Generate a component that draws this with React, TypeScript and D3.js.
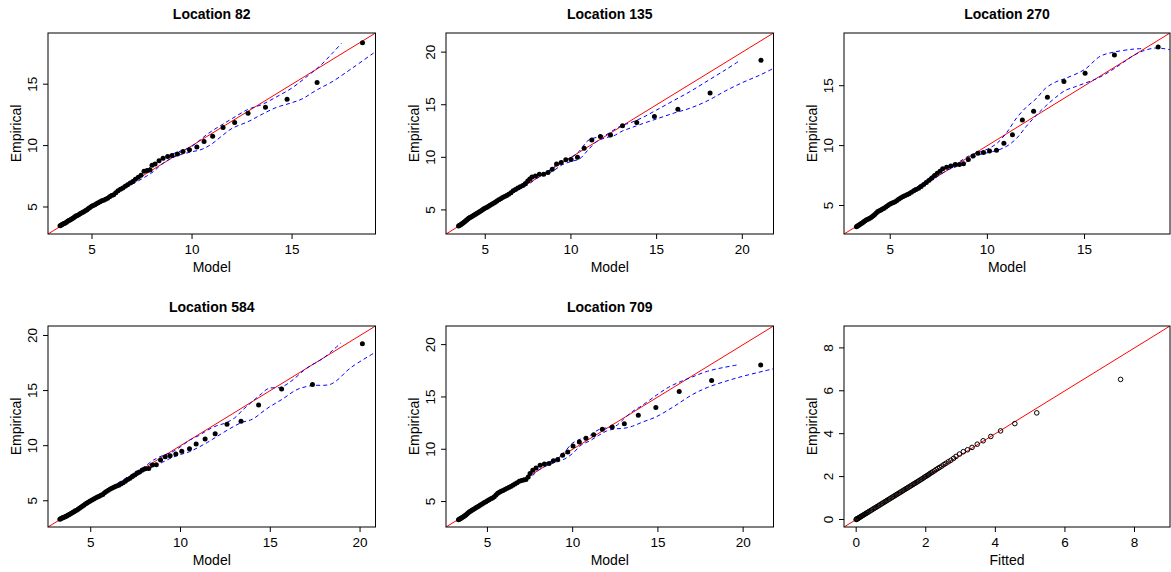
import React from "react";
import * as d3 from "d3";

// ---------- text ----------
const titles = ["Location 82", "Location 135", "Location 270", "Location 584", "Location 709", ""];
const xTitles = ["Model", "Model", "Model", "Model", "Model", "Fitted"];
const yTitle = "Empirical";

// ---------- axis limits & ticks ----------
const limits = [[2.8, 19.17], [2.71, 21.82], [2.62, 19.4], [2.62, 20.86], [2.57, 21.78], [-0.35, 9.02]];
const ticks = [[5, 10, 15], [5, 10, 15, 20], [5, 10, 15], [5, 10, 15, 20], [5, 10, 15, 20], [0, 2, 4, 6, 8]];

// ---------- Location 82 ----------
const model82 = [3.40,3.45,3.50,3.55,3.60,3.66,3.72,3.78,3.84,3.90,3.96,4.02,4.08,4.14,4.20,4.26,4.33,4.40,4.47,4.54,4.61,4.68,4.75,4.82,4.90,4.98,5.06,5.14,5.22,5.31,5.40,5.49,5.58,5.68,5.78,5.88,5.98,6.08,6.19,6.30,6.42,6.54,6.66,6.78,6.91,7.04,7.17,7.31,7.45,7.60,7.75,7.90,8.00,8.15,8.35,8.55,8.78,9.00,9.27,9.55,9.87,10.24,10.60,11.03,11.55,12.13,12.80,13.67,14.75,16.25,18.52];
const emp82 = [3.48,3.52,3.57,3.62,3.66,3.70,3.76,3.84,3.90,3.95,4.00,4.06,4.13,4.20,4.26,4.31,4.37,4.44,4.52,4.58,4.64,4.71,4.78,4.87,4.96,5.05,5.12,5.18,5.26,5.35,5.43,5.50,5.55,5.62,5.72,5.84,5.93,6.00,6.15,6.32,6.45,6.55,6.68,6.82,6.95,7.08,7.25,7.42,7.58,7.92,7.98,8.02,8.40,8.50,8.77,8.96,9.12,9.20,9.31,9.52,9.66,9.88,10.33,10.77,11.47,11.88,12.64,13.13,13.78,15.13,18.38];
const upper82 = [[5.5,5.6],[6.0,6.1],[6.5,6.6],[7.0,7.2],[7.5,7.75],[8.0,8.35],[8.5,8.9],[9.0,9.3],[9.5,9.6],[10.0,9.95],[10.5,10.6],[11.0,11.2],[11.5,11.7],[12.0,12.2],[12.8,12.95],[13.5,13.35],[14.2,13.95],[15.0,14.7],[15.8,15.7],[16.4,16.5],[17.0,17.5],[17.47,18.33]];
const lower82 = [[5.5,5.4],[6.0,5.9],[6.5,6.4],[7.0,6.85],[7.5,7.3],[8.0,7.8],[8.5,8.5],[9.0,9.0],[9.5,9.3],[10.0,9.5],[10.5,9.7],[11.0,10.15],[11.5,10.8],[12.0,11.4],[12.8,11.95],[13.5,12.55],[14.2,13.1],[14.9,13.45],[15.5,13.8],[16.2,14.5],[17.0,15.2],[18.0,16.3],[19.17,17.65]];

// ---------- Location 135 ----------
const model135 = [3.44,3.50,3.56,3.62,3.68,3.74,3.80,3.86,3.92,3.98,4.04,4.10,4.17,4.24,4.31,4.38,4.45,4.52,4.60,4.68,4.76,4.84,4.92,5.01,5.10,5.19,5.28,5.38,5.48,5.58,5.68,5.79,5.90,6.01,6.13,6.25,6.37,6.50,6.63,6.76,6.90,7.04,7.19,7.34,7.48,7.60,7.73,7.93,8.16,8.41,8.66,8.91,9.16,9.43,9.70,10.01,10.38,10.77,11.22,11.72,12.31,13.01,13.84,14.87,16.24,18.12,21.09];
const emp135 = [3.48,3.54,3.60,3.66,3.73,3.80,3.88,3.96,4.05,4.13,4.20,4.27,4.33,4.40,4.47,4.54,4.61,4.68,4.76,4.84,4.93,5.02,5.10,5.18,5.26,5.35,5.44,5.54,5.64,5.74,5.85,5.96,6.07,6.18,6.28,6.38,6.48,6.62,6.82,6.95,7.08,7.20,7.33,7.50,7.75,7.95,8.13,8.23,8.39,8.39,8.55,8.87,9.37,9.50,9.78,9.79,10.00,10.86,11.65,11.97,12.12,13.01,13.30,13.87,14.56,16.11,19.22];
const upper135 = [[5.5,5.75],[6.5,6.75],[7.5,7.75],[8.0,8.3],[8.5,8.5],[9.0,9.1],[9.5,9.65],[10.0,9.95],[10.5,10.6],[11.0,11.6],[11.5,11.9],[12.0,12.1],[12.5,12.6],[13.0,13.05],[13.5,13.3],[14.2,13.8],[15.0,14.5],[16.0,15.4],[17.0,16.3],[18.0,17.3],[19.0,18.3],[19.81,19.15]];
const lower135 = [[5.5,5.55],[6.5,6.55],[7.5,7.4],[8.0,8.0],[8.5,8.35],[9.0,8.75],[9.5,9.3],[10.0,9.6],[10.5,9.85],[11.0,10.7],[11.5,11.5],[12.0,11.85],[12.5,12.05],[13.0,12.5],[13.5,12.8],[14.0,13.1],[15.0,13.65],[16.0,14.2],[17.0,14.7],[18.0,15.4],[19.0,16.3],[20.0,17.1],[21.0,17.8],[21.82,18.46]];

// ---------- Location 270 ----------
const model270 = [3.26,3.31,3.36,3.41,3.47,3.53,3.59,3.65,3.71,3.78,3.85,3.92,3.99,4.06,4.13,4.20,4.28,4.36,4.44,4.52,4.60,4.68,4.77,4.86,4.95,5.04,5.13,5.23,5.33,5.43,5.53,5.64,5.75,5.86,5.97,6.09,6.21,6.33,6.46,6.59,6.72,6.86,7.00,7.14,7.28,7.42,7.56,7.70,7.90,8.12,8.34,8.56,8.77,9.02,9.26,9.51,9.80,10.11,10.47,10.85,11.29,11.80,12.38,13.09,13.94,15.03,16.54,18.79];
const emp270 = [3.23,3.28,3.33,3.39,3.45,3.51,3.58,3.66,3.73,3.80,3.86,3.92,3.98,4.06,4.15,4.25,4.38,4.50,4.56,4.62,4.70,4.78,4.88,4.98,5.08,5.16,5.22,5.30,5.40,5.52,5.62,5.72,5.82,5.90,5.98,6.10,6.24,6.34,6.44,6.58,6.75,6.92,7.10,7.30,7.50,7.70,7.85,8.06,8.20,8.29,8.43,8.43,8.49,8.83,9.14,9.37,9.42,9.54,9.62,10.19,10.91,12.13,12.86,14.04,15.36,16.04,17.56,18.23];
const upper270 = [[5.5,5.7],[6.5,6.7],[7.0,7.3],[7.5,7.9],[8.0,8.3],[8.5,8.6],[9.0,9.1],[9.5,9.4],[10.0,9.7],[10.5,10.2],[11.0,11.1],[11.5,12.3],[12.0,13.2],[12.5,13.9],[13.0,14.8],[13.5,15.3],[14.0,15.6],[15.0,16.35],[15.8,17.45],[16.5,17.8],[17.5,18.05],[18.0,18.1]];
const lower270 = [[5.5,5.45],[6.5,6.45],[7.0,6.95],[7.5,7.5],[8.0,8.0],[8.5,8.3],[9.0,8.7],[9.5,9.2],[10.0,9.4],[10.5,9.6],[11.0,9.95],[11.5,10.6],[12.0,11.6],[12.5,12.5],[13.0,13.3],[13.5,14.0],[14.0,14.6],[14.5,14.9],[15.0,15.2],[15.5,15.5],[16.0,15.9],[16.5,16.4],[17.0,16.95],[17.5,17.5],[18.0,17.9],[18.7,18.15],[19.4,18.0]];

// ---------- Location 584 ----------
const model584 = [3.28,3.33,3.38,3.43,3.48,3.54,3.60,3.66,3.72,3.78,3.85,3.92,3.99,4.06,4.13,4.21,4.29,4.37,4.45,4.53,4.61,4.70,4.79,4.88,4.97,5.07,5.17,5.27,5.37,5.47,5.57,5.67,5.77,5.87,5.98,6.09,6.20,6.32,6.44,6.56,6.68,6.80,6.93,7.06,7.19,7.32,7.45,7.58,7.72,7.87,8.04,8.23,8.43,8.65,8.89,9.15,9.42,9.74,10.07,10.50,10.87,11.37,11.93,12.59,13.37,14.35,15.63,17.35,20.13];
const emp584 = [3.33,3.37,3.41,3.45,3.49,3.53,3.57,3.62,3.68,3.74,3.80,3.86,3.93,4.00,4.07,4.15,4.24,4.33,4.42,4.51,4.60,4.70,4.80,4.89,4.98,5.07,5.16,5.25,5.34,5.42,5.50,5.58,5.72,5.85,5.96,6.06,6.15,6.24,6.33,6.42,6.52,6.63,6.77,6.92,7.05,7.20,7.35,7.52,7.60,7.80,7.90,7.94,8.24,8.27,8.70,9.00,9.09,9.24,9.49,9.73,10.15,10.60,11.09,11.94,12.21,13.70,15.15,15.55,19.24];
const upper584 = [[5.5,5.6],[6.5,6.6],[7.5,7.6],[8.0,8.1],[8.5,8.7],[9.0,9.1],[9.5,9.4],[10.0,9.9],[10.5,10.5],[11.0,10.9],[11.5,11.4],[12.0,11.8],[12.5,12.05],[13.0,12.5],[13.5,13.3],[14.0,14.0],[14.5,14.7],[14.9,15.2],[15.6,15.3],[16.2,15.9],[17.0,17.0],[18.0,18.0],[18.93,19.33]];
const lower584 = [[5.5,5.4],[6.5,6.35],[7.5,7.2],[8.0,7.7],[8.5,8.1],[9.0,8.5],[9.5,8.9],[10.0,9.2],[10.5,9.45],[11.0,9.85],[11.5,10.3],[12.0,10.8],[12.7,11.5],[13.4,12.1],[14.0,12.4],[14.8,13.35],[15.7,14.25],[16.5,15.1],[17.3,15.45],[18.4,15.6],[19.5,17.1],[20.86,18.48]];

// ---------- Location 709 ----------
const model709 = [3.30,3.35,3.40,3.45,3.51,3.57,3.63,3.69,3.75,3.81,3.88,3.95,4.02,4.09,4.16,4.24,4.32,4.40,4.48,4.56,4.64,4.73,4.82,4.91,5.00,5.10,5.20,5.30,5.40,5.50,5.60,5.70,5.80,5.91,6.02,6.13,6.25,6.37,6.49,6.61,6.74,6.87,7.00,7.13,7.26,7.39,7.50,7.66,7.85,8.09,8.34,8.61,8.87,9.12,9.41,9.71,10.02,10.39,10.78,11.23,11.74,12.32,13.03,13.85,14.88,16.25,18.15,21.03];
const emp709 = [3.27,3.31,3.36,3.41,3.47,3.53,3.60,3.67,3.75,3.84,3.93,4.02,4.10,4.18,4.25,4.32,4.40,4.48,4.56,4.64,4.72,4.81,4.90,4.99,5.08,5.18,5.27,5.35,5.45,5.62,5.80,5.90,5.98,6.07,6.16,6.25,6.35,6.45,6.56,6.67,6.80,6.95,7.02,7.06,7.12,7.35,7.68,8.00,8.21,8.46,8.59,8.65,8.91,9.01,9.42,9.74,10.32,10.70,11.06,11.38,11.92,12.12,12.43,13.24,14.00,15.51,16.57,18.05];
const upper709 = [[5.5,5.8],[6.5,6.65],[7.5,7.65],[8.0,8.35],[8.5,8.75],[9.0,9.0],[9.5,9.7],[10.0,10.6],[10.5,11.0],[11.0,11.3],[11.5,11.85],[12.0,12.05],[12.5,12.2],[13.0,12.9],[13.5,13.6],[14.0,14.1],[14.9,15.15],[15.6,15.9],[16.3,16.45],[17.0,16.9],[17.9,17.45],[18.8,17.8],[19.75,18.08]];
const lower709 = [[5.5,5.5],[6.5,6.5],[7.5,7.3],[8.0,8.0],[8.5,8.45],[9.0,8.75],[9.5,9.05],[10.0,9.6],[10.5,10.4],[11.0,10.8],[11.5,11.3],[12.0,11.75],[12.5,11.95],[13.0,12.0],[13.5,12.2],[14.1,12.6],[14.9,13.1],[15.9,14.05],[17.0,15.2],[17.9,15.9],[19.7,16.85],[21.78,17.69]];

// ---------- Residual QQ (fitted vs empirical) ----------
const fitted = [0.00,0.01,0.02,0.03,0.05,0.07,0.09,0.11,0.13,0.15,0.18,0.21,0.24,0.27,0.30,0.33,0.36,0.40,0.44,0.48,0.52,0.56,0.60,0.64,0.68,0.72,0.76,0.80,0.84,0.88,0.92,0.96,1.00,1.04,1.08,1.12,1.16,1.20,1.24,1.28,1.32,1.36,1.40,1.44,1.48,1.52,1.56,1.60,1.64,1.68,1.72,1.76,1.80,1.84,1.88,1.92,1.96,2.00,2.04,2.08,2.12,2.16,2.20,2.25,2.30,2.35,2.40,2.46,2.52,2.58,2.65,2.72,2.80,2.87,2.97,3.08,3.20,3.33,3.48,3.65,3.87,4.15,4.56,5.19,7.60];
const empirical = [0.00,0.01,0.02,0.03,0.05,0.07,0.09,0.11,0.13,0.15,0.18,0.21,0.24,0.27,0.30,0.33,0.36,0.40,0.44,0.48,0.52,0.56,0.60,0.64,0.68,0.72,0.76,0.80,0.84,0.88,0.92,0.96,1.00,1.04,1.08,1.12,1.16,1.20,1.24,1.28,1.32,1.36,1.40,1.44,1.48,1.52,1.56,1.60,1.64,1.68,1.72,1.76,1.80,1.84,1.88,1.92,1.97,2.01,2.05,2.09,2.14,2.18,2.22,2.27,2.33,2.38,2.43,2.49,2.56,2.62,2.69,2.76,2.85,2.94,3.05,3.16,3.25,3.36,3.51,3.67,3.87,4.13,4.47,4.97,6.53];

const xs = [model82, model135, model270, model584, model709, fitted];
const ys = [emp82, emp135, emp270, emp584, emp709, empirical];
const uppers = [upper82, upper135, upper270, upper584, upper709, []];
const lowers = [lower82, lower135, lower270, lower584, lower709, []];

// ---------- layout ----------
const W = 1171, H = 572;
const boxes = [
  { l: 48, r: 375.5, t: 33, b: 234 },
  { l: 446, r: 773.5, t: 33, b: 234 },
  { l: 844, r: 1170, t: 33, b: 234 },
  { l: 48, r: 375.5, t: 326, b: 527 },
  { l: 446, r: 773.5, t: 326, b: 527 },
  { l: 844, r: 1170, t: 326, b: 527 },
];
const FONT = "'Liberation Sans', Arial, Helvetica, sans-serif";

function Panel({ i }: { i: number }) {
  const b = boxes[i];
  const [lo, hi] = limits[i];
  const x = d3.scaleLinear().domain([lo, hi]).range([b.l, b.r]);
  const y = d3.scaleLinear().domain([lo, hi]).range([b.b, b.t]);
  const band = d3
    .line<number[]>()
    .x((d) => x(d[0]))
    .y((d) => y(d[1]))
    .curve(d3.curveCatmullRom.alpha(0.5));
  const pts = d3.zip(xs[i], ys[i]);
  const open = i === 5;
  const cid = `clip${i}`;
  const tk = ticks[i];
  return (
    <g>
      <defs>
        <clipPath id={cid}>
          <rect x={b.l} y={b.t} width={b.r - b.l} height={b.b - b.t} />
        </clipPath>
      </defs>
      <g clipPath={`url(#${cid})`}>
        <line x1={x(lo)} y1={y(lo)} x2={x(hi)} y2={y(hi)} stroke="#ff0000" strokeWidth={1} />
        {uppers[i].length > 0 && (
          <path d={band(uppers[i]) || ""} fill="none" stroke="#0000ff" strokeWidth={1} strokeDasharray="4,3" />
        )}
        {lowers[i].length > 0 && (
          <path d={band(lowers[i]) || ""} fill="none" stroke="#0000ff" strokeWidth={1} strokeDasharray="4,3" />
        )}
        {pts.map((p, k) =>
          open ? (
            <circle key={k} cx={x(p[0])} cy={y(p[1])} r={2.3} fill="none" stroke="#000" strokeWidth={1} />
          ) : (
            <circle key={k} cx={x(p[0])} cy={y(p[1])} r={2.5} fill="#000" />
          )
        )}
      </g>
      <rect x={b.l} y={b.t} width={b.r - b.l} height={b.b - b.t} fill="none" stroke="#000" strokeWidth={1} />
      {tk.map((t) => (
        <g key={"x" + t}>
          <line x1={x(t)} x2={x(t)} y1={b.b} y2={b.b + 5} stroke="#000" />
          <text x={x(t)} y={b.b + 20} textAnchor="middle" fontSize={13.5} fontFamily={FONT} fill="#000">
            {t}
          </text>
        </g>
      ))}
      {tk.map((t) => (
        <g key={"y" + t}>
          <line x1={b.l - 5} x2={b.l} y1={y(t)} y2={y(t)} stroke="#000" />
          <text
            transform={`translate(${b.l - 11.5},${y(t)}) rotate(-90)`}
            textAnchor="middle"
            fontSize={13.5}
            fontFamily={FONT}
            fill="#000"
          >
            {t}
          </text>
        </g>
      ))}
      <text x={(b.l + b.r) / 2} y={b.b + 38} textAnchor="middle" fontSize={14} fontFamily={FONT} fill="#000">
        {xTitles[i]}
      </text>
      <text
        transform={`translate(${b.l - 27},${(b.t + b.b) / 2}) rotate(-90)`}
        textAnchor="middle"
        fontSize={14}
        fontFamily={FONT}
        fill="#000"
      >
        {yTitle}
      </text>
      {titles[i] && (
        <text x={(b.l + b.r) / 2} y={b.t - 14.5} textAnchor="middle" fontSize={14} fontWeight="bold" fontFamily={FONT} fill="#000">
          {titles[i]}
        </text>
      )}
    </g>
  );
}

export default function App() {
  return (
    <svg
      width={W}
      height={H}
      viewBox={`0 0 ${W} ${H}`}
      style={{ position: "absolute", left: 0, top: 0, background: "#fff" }}
    >
      <rect x={0} y={0} width={W} height={H} fill="#fff" />
      {boxes.map((_, i) => (
        <Panel key={i} i={i} />
      ))}
    </svg>
  );
}
